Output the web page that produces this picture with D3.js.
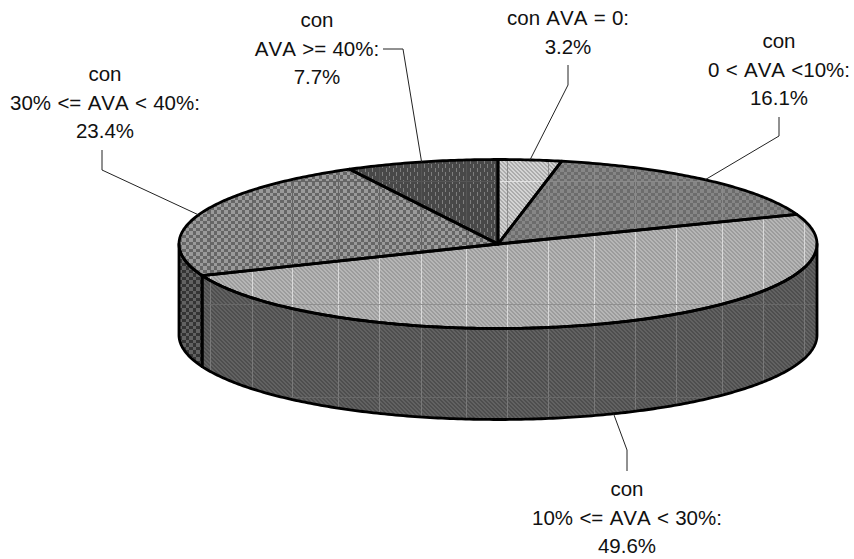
<!DOCTYPE html>
<html lang="en">
    <head>
        <meta charset="utf-8">
        <title>AVA pie</title>
        <script src="https://d3js.org/d3.v7.min.js"></script>
        <style type="text/css">
            body { margin: 0; background: #fff; }
            text {
              font-family: "Liberation Sans", Arial, sans-serif;
              font-size: 20.5px;
              font-kerning: none;
              word-spacing: 0.6px;
              fill: #111;
              text-anchor: middle;
            }
            .leader { fill: none; stroke: #222; stroke-width: 1; }
            .edge { stroke: #000; stroke-width: 2.8; fill: none; stroke-linejoin: round; }
        </style>
    </head>
    <body>
        <div id="chart"></div>
        <script type="text/javascript">
        //DATA
            const labelLines = [
                ["con AVA = 0:"],
                ["con", "0 < AVA <10%:"],
                ["con", "10% <= AVA < 30%:"],
                ["con", "30% <= AVA < 40%:"],
                ["con", "AVA >= 40%:"]
            ];
            const shares = [3.2, 16.1, 49.6, 23.4, 7.7];

        //CONSTANTS
            const w = 854;
            const h = 559;
            const depth = 91;
            const lineGap = 28.5;

            // label centre, first baseline and the elbow of each leader line
            const labelPos = [
                {x: 568, y: 25, ex: 568, ey: 85, sx: 568, sy: 65},
                {x: 779, y: 48, ex: 779, ey: 136, sx: 779, sy: 117},
                {x: 627, y: 496, ex: 627, ey: 450, sx: 627, sy: 471},
                {x: 105, y: 81, ex: 102, ey: 170, sx: 102, sy: 150},
                {x: 317, y: 27, ex: 403, ey: 49, sx: 383, sy: 49}
            ];

            // the scaled fill tiles leave faint seams in the picture
            const seamX = [210, 252, 292, 338, 379, 421, 466, 507, 548, 594, 635, 676, 722, 763, 804];
            const seamY = [181, 304, 397];

        //SCALES
            const xScale = d3.scaleLinear().domain([-1, 1]).range([179, 817]);
            const yScale = d3.scaleLinear().domain([-1, 1]).range([159.5, 328.5]);

            const px = a => xScale(Math.sin(a));
            const py = (a, drop) => yScale(-Math.cos(a)) + (drop || 0);

            const arcs = d3.pie().sort(null).value(d => d)(shares);

            const line = d3.line();
            function arcPoints(a0, a1, drop) {
                const n = Math.max(2, Math.ceil((a1 - a0) * 80));
                return d3.range(n + 1).map(i => {
                    const a = a0 + (a1 - a0) * i / n;
                    return [px(a), py(a, drop)];
                });
            }
            const centre = [xScale(0), yScale(0)];
            const topPath = d => line([centre].concat(arcPoints(d.startAngle, d.endAngle, 0))) + "Z";
            function sidePath(a0, a1) {
                return line(arcPoints(a0, a1, 0).concat(arcPoints(a0, a1, depth).reverse())) + "Z";
            }

        //SVG
            const svg = d3.select("#chart").append("svg")
                .attr("width", w)
                .attr("height", h);
            const defs = svg.append("defs");

        //FILL PATTERNS
            function tile(id, size, bg, rects) {
                const p = defs.append("pattern")
                    .attr("id", id)
                    .attr("patternUnits", "userSpaceOnUse")
                    .attr("width", size[0])
                    .attr("height", size[1]);
                p.append("rect").attr("width", size[0]).attr("height", size[1]).attr("fill", bg);
                rects.forEach(r => p.append("rect")
                    .attr("x", r[0]).attr("y", r[1])
                    .attr("width", r[2]).attr("height", r[3])
                    .attr("fill", r[4]));
            }
            function diag(id, a, b) {
                tile(id, [4, 4], a, [
                    [0, 0, 1, 1, b], [1, 0, 1, 1, b],
                    [1, 1, 1, 1, b], [2, 1, 1, 1, b],
                    [2, 2, 1, 1, b], [3, 2, 1, 1, b],
                    [3, 3, 1, 1, b], [0, 3, 1, 1, b]
                ]);
            }
            diag("p0", "#d4d4d4", "#acacac");
            diag("p2", "#b6b6b6", "#9c9c9c");
            diag("p2side", "#626262", "#4e4e4e");
            tile("p1", [7, 7], "#6c6c6c", [[0, 0, 4, 4, "#868686"], [4, 4, 3, 3, "#868686"]]);
            tile("p3", [7, 7], "#565656", [[0, 0, 4, 4, "#9a9a9a"], [4, 4, 3, 3, "#9a9a9a"], [4, 0, 3, 4, "#666"], [0, 4, 4, 3, "#666"]]);
            tile("p3side", [7, 7], "#343434", [[0, 0, 4, 4, "#626262"], [4, 4, 3, 3, "#626262"]]);
            tile("p4", [7, 8], "#484848", [[1, 0, 1, 4, "#7e7e7e"], [4, 4, 1, 4, "#7e7e7e"]]);

        //FACES - side walls first, then the top of the pie
            const startSide = arcs[2].endAngle;
            const faces = [
                {d: sidePath(Math.PI / 2, startSide), fill: "p2side", vx: "#787878", hz: "#686868"},
                {d: sidePath(startSide, Math.PI * 1.5), fill: "p3side", vx: "#555", hz: "#555"},
                {d: topPath(arcs[0]), fill: "p0", vx: "#8e8e8e", hz: "#e2e2e2"},
                {d: topPath(arcs[1]), fill: "p1", vx: "#8a8a8a", hz: "#8a8a8a"},
                {d: topPath(arcs[2]), fill: "p2", vx: "#d8d8d8", hz: "#8f8f8f"},
                {d: topPath(arcs[3]), fill: "p3", vx: "#666", hz: "#666"},
                {d: topPath(arcs[4]), fill: "p4", vx: "#555", hz: "#555"}
            ];

            faces.forEach((f, i) => {
                defs.append("clipPath").attr("id", "clip" + i).append("path").attr("d", f.d);
                const g = svg.append("g");
                g.append("path").attr("d", f.d).attr("fill", "url(#" + f.fill + ")");
                const seams = g.append("g").attr("clip-path", "url(#clip" + i + ")");
                seams.selectAll("line.v").data(seamX).enter().append("line")
                    .attr("x1", d => d + 0.5).attr("x2", d => d + 0.5)
                    .attr("y1", 0).attr("y2", h)
                    .attr("stroke", f.vx);
                seams.selectAll("line.h").data(seamY).enter().append("line")
                    .attr("x1", 0).attr("x2", w)
                    .attr("y1", d => d + 0.5).attr("y2", d => d + 0.5)
                    .attr("stroke", f.hz);
            });

        //OUTLINES
            faces.forEach(f => svg.append("path").attr("class", "edge").attr("d", f.d));

        //LEADER LINES - each one ends on the middle of its slice
            arcs.forEach((d, i) => {
                const mid = (d.startAngle + d.endAngle) / 2;
                const front = Math.cos(mid) < 0;
                const p = labelPos[i];
                svg.append("path")
                    .attr("class", "leader")
                    .attr("d", line([[p.sx, p.sy], [p.ex, p.ey], [px(mid), py(mid, front ? depth : 0)]]));
            });

        //LABELS
            arcs.forEach((d, i) => {
                const p = labelPos[i];
                const rows = labelLines[i].concat(d3.format(".1f")(d.value) + "%");
                svg.selectAll(null).data(rows).enter().append("text")
                    .attr("x", p.x)
                    .attr("y", (r, k) => p.y + k * lineGap)
                    .text(r => r);
            });
        </script>
    </body>
</html>
